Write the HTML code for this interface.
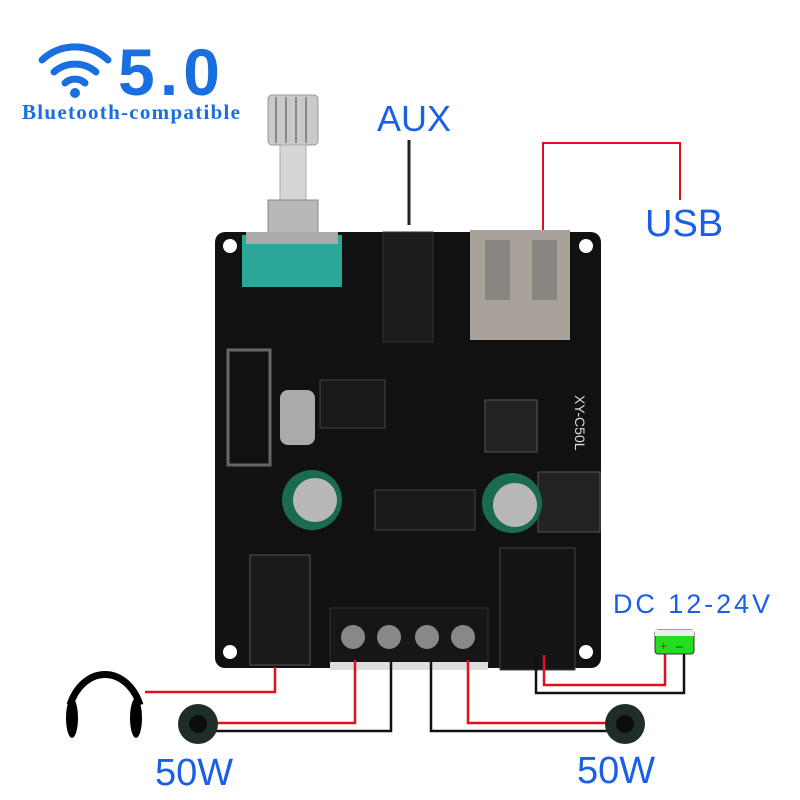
<!DOCTYPE html>
<html><head><style>
body{margin:0;background:#fff;width:800px;height:800px;overflow:hidden;}
svg{display:block}
</style></head><body>
<svg width="800" height="800" viewBox="0 0 800 800" xmlns="http://www.w3.org/2000/svg">
<g fill="none" stroke="#1a6fe0" stroke-linecap="round">
<path d="M42 60 A48 48 0 0 1 108 60" stroke-width="7"/>
<path d="M54 72 A32 32 0 0 1 96 72" stroke-width="7"/>
<path d="M65 83 A15 15 0 0 1 85 83" stroke-width="7"/>
</g>
<circle cx="75" cy="93" r="5" fill="#1a6fe0"/>
<text x="118" y="95" font-family="Liberation Sans, sans-serif" font-size="66" fill="#1a6fe0" font-weight="bold" textLength="102">5.0</text>
<text x="22" y="119" font-family="Liberation Serif, serif" font-size="21" fill="#1a6fe0" font-weight="bold" textLength="218">Bluetooth-compatible</text>
<rect x="268" y="95" width="50" height="50" rx="4" fill="#c9c9c9" stroke="#999"/>
<g stroke="#888" stroke-width="2"><line x1="276" y1="97" x2="276" y2="143"/><line x1="286" y1="97" x2="286" y2="143"/><line x1="296" y1="97" x2="296" y2="143"/><line x1="306" y1="97" x2="306" y2="143"/></g>
<rect x="280" y="145" width="26" height="60" fill="#d6d6d6" stroke="#aaa"/>
<rect x="268" y="200" width="50" height="35" fill="#b8b8b8" stroke="#888"/>
<line x1="409" y1="140" x2="409" y2="225" stroke="#222" stroke-width="3"/>
<text x="377" y="131" font-family="Liberation Sans, sans-serif" font-size="36" fill="#1a5fe8">AUX</text>
<polyline points="543,240 543,143 680,143 680,200" fill="none" stroke="#e01020" stroke-width="2"/>
<text x="645" y="236" font-family="Liberation Sans, sans-serif" font-size="38" fill="#1a5fe8">USB</text>
<rect x="215" y="232" width="386" height="436" rx="10" fill="#111"/>
<circle cx="230" cy="246" r="7" fill="#fff"/><circle cx="586" cy="246" r="7" fill="#fff"/>
<circle cx="230" cy="652" r="7" fill="#fff"/><circle cx="586" cy="652" r="7" fill="#fff"/>
<rect x="242" y="235" width="100" height="52" fill="#2ba89a"/>
<rect x="246" y="232" width="92" height="12" fill="#aaa"/>
<rect x="383" y="232" width="50" height="110" fill="#1d1d1d" stroke="#333"/>
<rect x="470" y="230" width="100" height="110" fill="#a8a29b"/>
<rect x="485" y="240" width="25" height="60" fill="#8a8580"/><rect x="532" y="240" width="25" height="60" fill="#8a8580"/>
<rect x="320" y="380" width="65" height="48" fill="#1a1a1a" stroke="#444"/>
<rect x="280" y="390" width="35" height="55" rx="8" fill="#aaa"/>
<rect x="485" y="400" width="52" height="52" fill="#222" stroke="#555"/>
<rect x="538" y="472" width="62" height="60" fill="#222" stroke="#555"/>
<rect x="375" y="490" width="100" height="40" fill="#1a1a1a" stroke="#444"/>
<circle cx="312" cy="500" r="30" fill="#1a6b52"/><circle cx="315" cy="500" r="22" fill="#b8b8b8"/>
<circle cx="512" cy="503" r="30" fill="#1a6b52"/><circle cx="515" cy="505" r="22" fill="#b8b8b8"/>
<rect x="228" y="350" width="42" height="115" fill="none" stroke="#666" stroke-width="3"/>
<rect x="500" y="548" width="75" height="122" fill="#141414" stroke="#444"/>
<rect x="250" y="555" width="60" height="110" fill="#1a1a1a" stroke="#555"/>
<rect x="330" y="608" width="158" height="55" fill="#161616" stroke="#333"/>
<rect x="330" y="662" width="158" height="8" fill="#ddd"/>
<circle cx="353" cy="637" r="12" fill="#888"/><circle cx="389" cy="637" r="12" fill="#888"/>
<circle cx="427" cy="637" r="12" fill="#888"/><circle cx="463" cy="637" r="12" fill="#888"/>
<text x="575" y="395" font-family="Liberation Sans, sans-serif" font-size="14" fill="#ddd" transform="rotate(90 575 395)">XY-C50L</text>
<g fill="none" stroke-width="2.5">
<polyline points="145,692 275,692 275,667" stroke="#e01020"/>
<polyline points="212,723 355,723 355,660" stroke="#e01020"/>
<polyline points="212,731 391,731 391,660" stroke="#111"/>
<polyline points="431,660 431,731 612,731" stroke="#111"/>
<polyline points="468,660 468,723 612,723" stroke="#e01020"/>
<polyline points="536,655 536,693 684,693 684,652" stroke="#111"/>
<polyline points="544,655 544,685 665,685 665,652" stroke="#e01020"/>
</g>
<rect x="655" y="630" width="39" height="24" rx="3" fill="#22dd22" stroke="#333"/>
<rect x="655" y="630" width="39" height="6" fill="#eee"/>
<text x="660" y="650" font-size="12" fill="#d00" font-family="Liberation Sans">+ </text><text x="676" y="650" font-size="12" fill="#222" font-family="Liberation Sans">–</text>
<text x="613" y="613" font-family="Liberation Sans, sans-serif" font-size="27" fill="#1a5fe8" textLength="157">DC 12-24V</text>
<path d="M70 705 A38 50 0 0 1 140 705" fill="none" stroke="#000" stroke-width="7"/>
<ellipse cx="72" cy="718" rx="6" ry="20" fill="#000"/><ellipse cx="136" cy="718" rx="6" ry="20" fill="#000"/>
<circle cx="198" cy="724" r="20" fill="#1f2d28"/><circle cx="198" cy="724" r="9" fill="#0a0f0c"/>
<circle cx="625" cy="724" r="20" fill="#1f2d28"/><circle cx="625" cy="724" r="9" fill="#0a0f0c"/>
<text x="155" y="785" font-family="Liberation Sans, sans-serif" font-size="38" fill="#1a5fe8">50W</text>
<text x="577" y="783" font-family="Liberation Sans, sans-serif" font-size="38" fill="#1a5fe8">50W</text>
</svg>
</body></html>
